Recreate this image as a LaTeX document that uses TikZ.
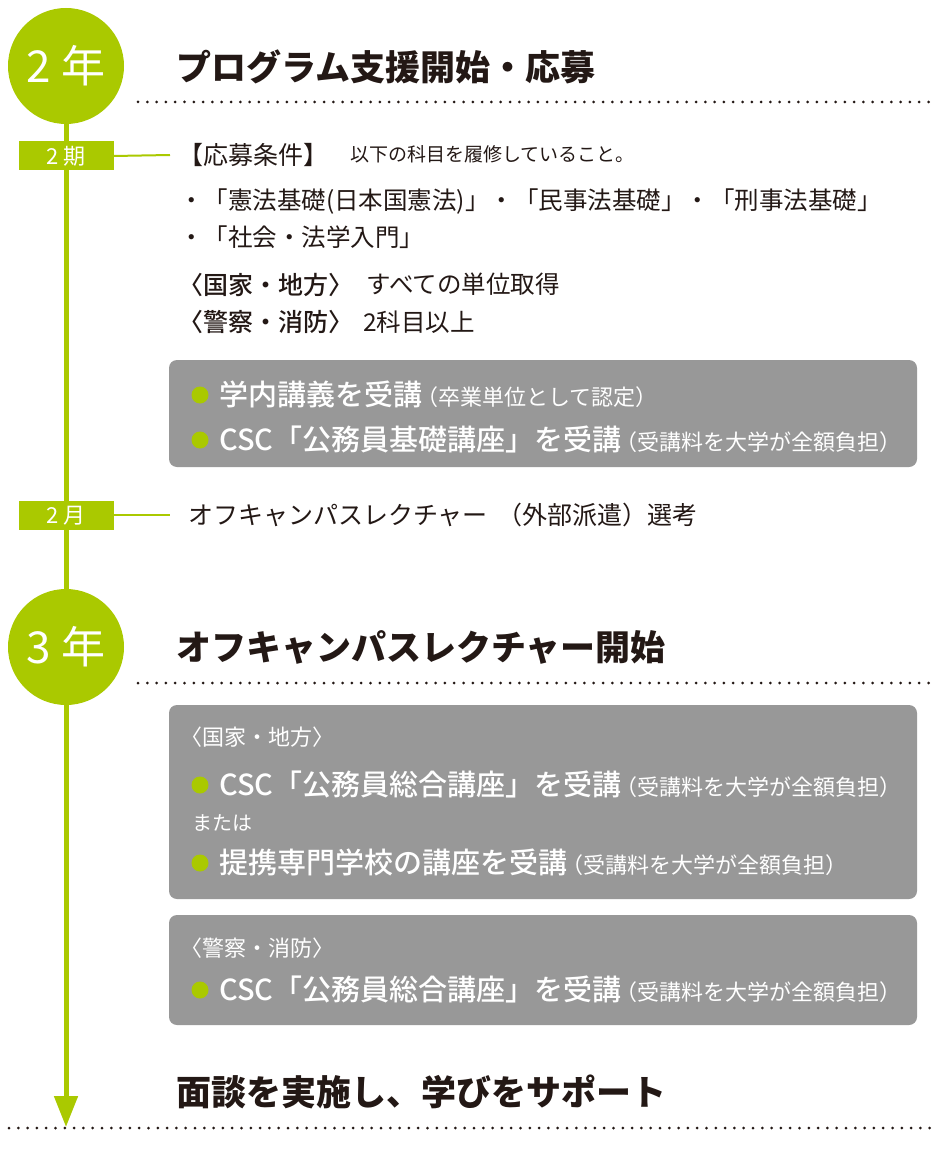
\documentclass[tikz,border=0pt]{standalone}
\usepackage{fontspec}
\newfontfamily\jp{Noto Sans CJK JP}
\newfontfamily\jpm{Noto Sans CJK JP Medium}
\usetikzlibrary{arrows.meta}
\definecolor{kgreen}{RGB}{170,201,0}
\definecolor{kgray}{RGB}{152,152,152}
\definecolor{ink}{RGB}{35,24,21}
\begin{document}
\begin{tikzpicture}[x=1pt,y=-1pt,
  yearc/.style={circle, fill=kgreen, minimum size=116pt, inner sep=0pt, text=white,
    font=\jp\fontsize{44}{44}\selectfont, text height=38.7pt, text depth=5.3pt},
  period/.style={rectangle, fill=kgreen, minimum width=95pt, minimum height=29pt, inner sep=0pt,
    text=white, font=\jp\fontsize{22}{22}\selectfont, text height=19.4pt, text depth=2.6pt},
  title/.style={anchor=base west, inner sep=0pt, text=ink, font=\jp\bfseries\fontsize{35}{35}\selectfont},
  body/.style={anchor=base west, inner sep=0pt, text=ink, font=\jp\fontsize{24.5}{24.5}\selectfont},
  bodyb/.style={body, font=\jpm\fontsize{25}{25}\selectfont},
  small/.style={anchor=base west, inner sep=0pt, text=ink, font=\jp\fontsize{19}{19}\selectfont},
  offtext/.style={anchor=base west, inner sep=0pt, text=ink, font=\jp\fontsize{25}{25}\selectfont},
  graybox/.style={rectangle, rounded corners=8pt, fill=kgray, inner sep=0pt},
  bullet/.style={circle, fill=kgreen, minimum size=17pt, inner sep=0pt},
  boxmain/.style={anchor=base west, inner sep=0pt, text=white, font=\jpm\fontsize{29}{29}\selectfont},
  boxnote/.style={anchor=base west, inner sep=0pt, text=white, font=\jp\fontsize{22}{22}\selectfont},
  boxhead/.style={anchor=base west, inner sep=0pt, text=white, font=\jp\fontsize{22}{22}\selectfont},
  dotline/.style={ink, line width=3pt, dash pattern=on 0pt off 9.3pt, line cap=round},
  tl/.style={kgreen, line width=5pt},
  conn/.style={kgreen, line width=2pt}
]
\useasboundingbox (0,0) rectangle (941,1155);

% year circles
\node[yearc] (y2) at (66,66) {2 年};
\node[yearc] (y3) at (66,647) {3 年};
\coordinate (tip) at (66,1127);

% timeline
\draw[tl] (y2.south) -- (y3.north);
\draw[tl, -{Triangle[width=23pt,length=31pt]}] (y3.south) -- (tip);

% period boxes and connectors
\node[period] (p1) at (66,156) {2 期};
\coordinate (c1) at (170,155);
\draw[conn] (p1.east) -- (c1);
\node[period] (p2) at (66,515) {2 月};
\coordinate (c2) at (170,515);
\draw[conn] (p2.east) -- (c2);

% titles and dotted rules
\node[title] (t1) at (176,80.3) {プログラム支援開始・応募};
\draw[dotline] (138,102) -- (935,102);
\node[title] (t2) at (176,660.3) {オフキャンパスレクチャー開始};
\draw[dotline] (138,683) -- (935,683);
\node[title] (t3) at (176,1105.3) {面談を実施し、学びをサポート};
\draw[dotline] (9,1128) -- (936,1128);

% year 2 conditions
\node[body, font=\jp\fontsize{25}{25}\selectfont] (r1) at (178,164.5) {【応募条件】};
\node[small] (r1b) at (350,162) {以下の科目を履修していること。};
\node[body] (r2) at (179,210) {・「憲法基礎(日本国憲法)」・「民事法基礎」・「刑事法基礎」};
\node[body] (r3) at (179,247) {・「社会・法学入門」};
\node[bodyb] (r4) at (178,294.5) {〈国家・地方〉};
\node[body] (r4b) at (366,294) {すべての単位取得};
\node[bodyb] (r5) at (178,331.5) {〈警察・消防〉};
\node[body] (r5b) at (363,331) {2科目以上};

% gray box 1
\node[graybox, minimum width=748pt, minimum height=107pt] (g1) at (543,413.5) {};
\node[bullet] (b11) at (200,395) {};
\node[boxmain] (m11) at (219,405.6) {学内講義を受講};
\node[boxnote] (n11) at (m11.base east) {\kern-6pt（卒業単位として認定）};
\node[bullet] (b12) at (200,440) {};
\node[boxmain] (m12) at (219,450.6) {CSC「公務員基礎講座」を受講};
\node[boxnote] (n12) at (m12.base east) {\kern-6pt（受講料を大学が全額負担）};

% selection
\node[offtext] (sel) at (188,524.5) {オフキャンパスレクチャー\hspace{10pt}（外部派遣）選考};

% gray box 2
\node[graybox, minimum width=748pt, minimum height=194pt] (g2) at (543,802) {};
\node[boxhead] (h2) at (180,745.4) {〈国家・地方〉};
\node[bullet] (b21) at (200,785) {};
\node[boxmain] (m21) at (219,795.6) {CSC「公務員総合講座」を受講};
\node[boxnote] (n21) at (m21.base east) {\kern-6pt（受講料を大学が全額負担）};
\node[boxhead, font=\jp\fontsize{20}{20}\selectfont] (or) at (192,830.6) {または};
\node[bullet] (b22) at (200,863) {};
\node[boxmain] (m22) at (219,873.6) {提携専門学校の講座を受講};
\node[boxnote] (n22) at (m22.base east) {\kern-6pt（受講料を大学が全額負担）};

% gray box 3
\node[graybox, minimum width=748pt, minimum height=110pt] (g3) at (543,970) {};
\node[boxhead] (h3) at (180,956.4) {〈警察・消防〉};
\node[bullet] (b31) at (200,990) {};
\node[boxmain] (m31) at (219,1000.6) {CSC「公務員総合講座」を受講};
\node[boxnote] (n31) at (m31.base east) {\kern-6pt（受講料を大学が全額負担）};
\end{tikzpicture}
\end{document}
